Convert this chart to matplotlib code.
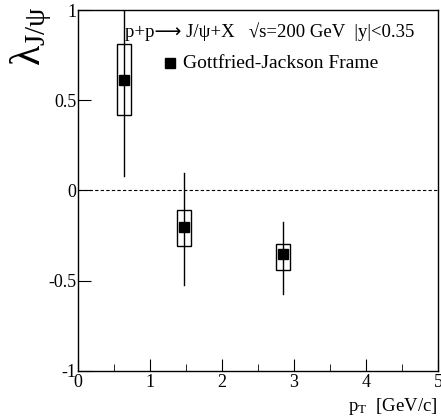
import matplotlib
matplotlib.use("Agg")
import matplotlib.pyplot as plt
from matplotlib.patches import Rectangle
import numpy as np

pt = [0.64, 1.47, 2.85]
lam = [0.61, -0.205, -0.353]
stat_lo = [0.08, -0.526, -0.576]
stat_hi = [1.1, 0.096, -0.172]
sys_lo = [0.42, -0.305, -0.443]
sys_hi = [0.81, -0.11, -0.294]
box_halfwidth = 0.1

plt.rcParams['font.family'] = ['Liberation Serif', 'DejaVu Sans']
plt.rcParams['mathtext.fontset'] = 'custom'
plt.rcParams['mathtext.rm'] = 'Liberation Serif'
plt.rcParams['mathtext.it'] = 'Liberation Serif'

fig = plt.figure(figsize=(4.41, 4.19), dpi=100)
ax = fig.add_axes([0.177, 0.1146, 0.816, 0.8615])
ax.set_xlim(0, 5)
ax.set_ylim(-1, 1)

ax.axhline(0, color='black', lw=0.8, ls=(0, (3, 2)))

for x, y, lo, hi, slo, shi in zip(pt, lam, stat_lo, stat_hi, sys_lo, sys_hi):
    ax.plot([x, x], [lo, hi], color='black', lw=1.0, clip_on=True)
    ax.add_patch(Rectangle((x - box_halfwidth, slo), 2 * box_halfwidth, shi - slo,
                           fill=False, edgecolor='black', lw=1.0))
ax.plot(pt, lam, 's', color='black', ms=7)

ax.set_xticks([0, 1, 2, 3, 4, 5])
ax.set_xticks(np.arange(0.5, 5, 1.0), minor=True)
ax.set_yticks([-1, -0.5, 0, 0.5, 1])
ax.set_yticklabels(['-1', '-0.5', '0', '0.5', '1'])
ax.tick_params(axis='both', which='major', direction='in', length=9, labelsize=13,
               top=False, right=False)
ax.tick_params(axis='x', which='minor', direction='in', length=5, top=False)
ax.tick_params(axis='x', which='major', pad=2)
ax.tick_params(axis='y', which='major', pad=1)
for s in ax.spines.values():
    s.set_linewidth(1.0)

ax.text(0.13, 0.94, 'p+p\u27f6 J/\u03c8+X   \u221as=200 GeV  |y|<0.35',
        transform=ax.transAxes, fontsize=13.5, va='center', ha='left')
ax.plot([0.255], [0.852], 's', color='black', ms=7, transform=ax.transAxes, clip_on=False)
ax.text(0.292, 0.852, 'Gottfried-Jackson Frame', transform=ax.transAxes,
        fontsize=14, va='center', ha='left')

fig.text(0.02, 0.985, r'$\lambda_{\rm J/\psi}$', rotation=90, fontsize=30,
         ha='left', va='top')
fig.text(0.993, 0.005, r'p$_{\rm T}$  [GeV/c]', fontsize=13.5, ha='right', va='bottom')

fig.savefig('out.png', dpi=100)
